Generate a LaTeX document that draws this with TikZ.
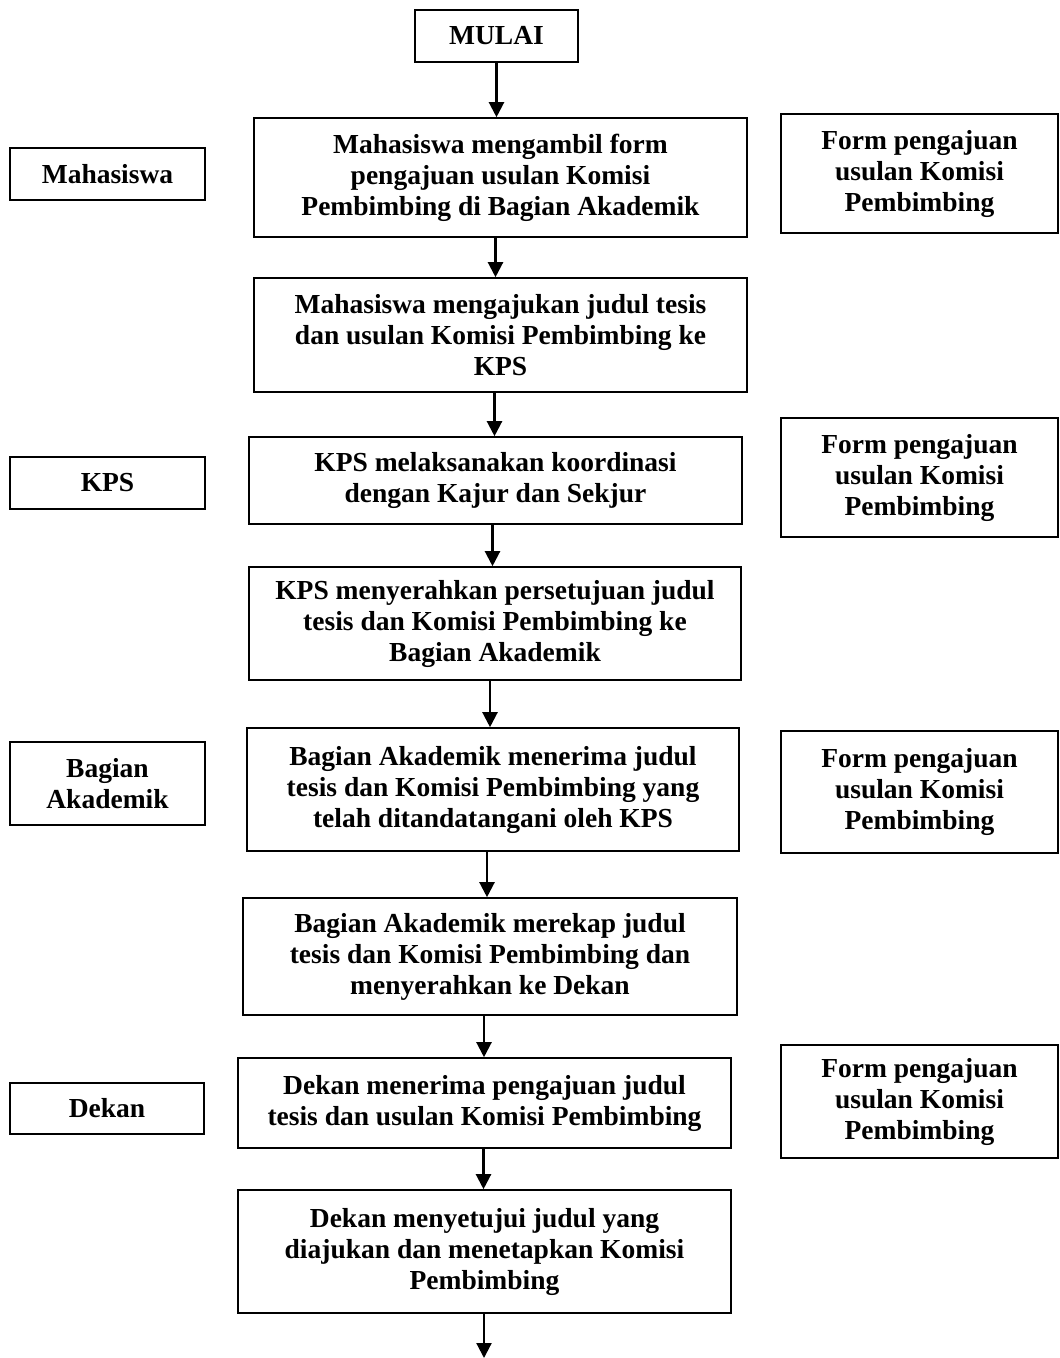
\documentclass[tikz,border=0pt]{standalone}
\usepackage{fontspec}
\setmainfont{Liberation Serif}
\usetikzlibrary{arrows.meta}
\begin{document}
\begin{tikzpicture}[x=1pt,y=-1pt,
  box/.style={draw,line width=1.6pt,inner sep=0pt,align=center,
    font=\fontsize{27.5}{31}\selectfont\bfseries},
  arr/.style={line width=2.2pt,-{Triangle[width=15pt,length=15pt]}}]
\useasboundingbox (0,0) rectangle (1060,1358);
\newcommand{\bx}[6]{%
  \node[box,minimum width={#4-#2},minimum height={#5-#3}] (#1) at ({(#2+#4)/2},{(#3+#5)/2}) {#6};}
\bx{mulai}{415}{10}{578}{62}{MULAI}
\bx{b1}{254}{118}{747}{237}{Mahasiswa mengambil form\\pengajuan usulan Komisi\\Pembimbing di Bagian Akademik}
\bx{b2}{254}{278}{747}{392}{Mahasiswa mengajukan judul tesis\\dan usulan Komisi Pembimbing ke\\KPS}
\bx{b3}{249}{437}{742}{524}{KPS melaksanakan koordinasi\\dengan Kajur dan Sekjur}
\bx{b4}{249}{567}{741}{680}{KPS menyerahkan persetujuan judul\\tesis dan Komisi Pembimbing ke\\Bagian Akademik}
\bx{b5}{247}{728}{739}{851}{Bagian Akademik menerima judul\\tesis dan Komisi Pembimbing yang\\telah ditandatangani oleh KPS}
\bx{b6}{243}{898}{737}{1015}{Bagian Akademik merekap judul\\tesis dan Komisi Pembimbing dan\\menyerahkan ke Dekan}
\bx{b7}{238}{1058}{731}{1148}{Dekan menerima pengajuan judul\\tesis dan usulan Komisi Pembimbing}
\bx{b8}{238}{1190}{731}{1313}{Dekan menyetujui judul yang\\diajukan dan menetapkan Komisi\\Pembimbing}
\bx{r1}{10}{148}{205}{200}{Mahasiswa}
\bx{r2}{10}{457}{205}{509}{KPS}
\bx{r3}{10}{742}{205}{825}{Bagian\\Akademik}
\bx{r4}{10}{1083}{204}{1134}{Dekan}
\bx{f1}{781}{114}{1058}{233}{Form pengajuan\\usulan Komisi\\Pembimbing}
\bx{f2}{781}{418}{1058}{537}{Form pengajuan\\usulan Komisi\\Pembimbing}
\bx{f3}{781}{731}{1058}{853}{Form pengajuan\\usulan Komisi\\Pembimbing}
\bx{f4}{781}{1045}{1058}{1158}{Form pengajuan\\usulan Komisi\\Pembimbing}
\coordinate (end) at (484,1358);
\draw[arr] (mulai.south) -- (mulai.south |- b1.north);
\draw[arr] ([xshift=-5pt]b1.south) -- ([xshift=-5pt]b1.south |- b2.north);
\draw[arr] ([xshift=-6pt]b2.south) -- ([xshift=-6pt]b2.south |- b3.north);
\draw[arr] ([xshift=-3pt]b3.south) -- ([xshift=-3pt]b3.south |- b4.north);
\draw[arr] ([xshift=-5pt]b4.south) -- ([xshift=-5pt]b4.south |- b5.north);
\draw[arr] ([xshift=-6pt]b5.south) -- ([xshift=-6pt]b5.south |- b6.north);
\draw[arr] ([xshift=-6pt]b6.south) -- ([xshift=-6pt]b6.south |- b7.north);
\draw[arr] ([xshift=-1pt]b7.south) -- ([xshift=-1pt]b7.south |- b8.north);
\draw[arr] (b8.south -| end) -- (end);
\end{tikzpicture}
\end{document}
